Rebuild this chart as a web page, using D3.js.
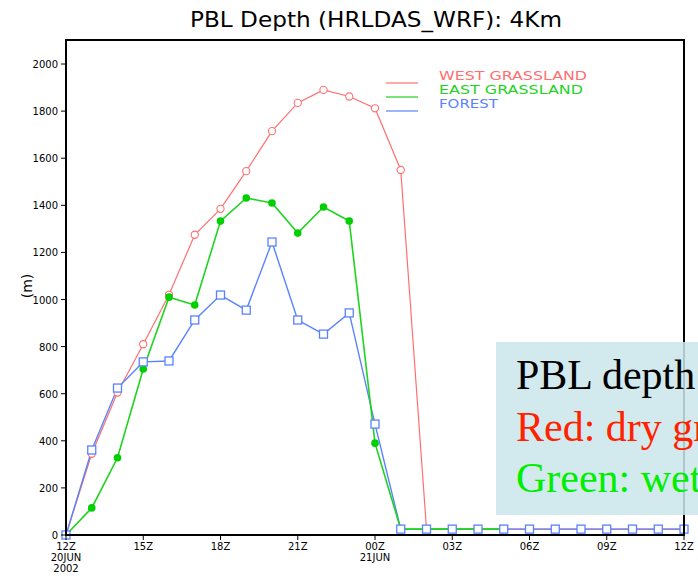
<!DOCTYPE html>
<html>
<head>
<meta charset="utf-8">
<script src="https://cdn.jsdelivr.net/npm/d3@7"></script>
<style>
  html, body { margin: 0; padding: 0; background: #fff; overflow: hidden; }
  svg { display: block; }
</style>
</head>
<body>
<div id="chart"></div>
<script>
// hours after 12Z 20JUN2002
const hours = [0, 1, 2, 3, 4, 5, 6, 7, 8, 9, 10, 11, 12, 13, 14, 15, 16, 17, 18, 19, 20, 21, 22, 23, 24];
const westGrass = [0, 345, 605, 810, 1020, 1275, 1385, 1545, 1715, 1835, 1890, 1862, 1812, 1550, 25, 25, 25, 25, 25, 25, 25, 25, 25, 25, 25];
const eastGrass = [0, 115, 328, 705, 1010, 977, 1333, 1431, 1410, 1282, 1393, 1333, 390, 25, 25, 25, 25, 25, null, null, null, null, null, null, null];
const forest = [0, 361, 624, 735, 739, 913, 1019, 955, 1244, 913, 853, 943, 471, 25, 25, 25, 25, 25, 25, 25, 25, 25, 25, 25, 25];
const yTicks = [0, 200, 400, 600, 800, 1000, 1200, 1400, 1600, 1800, 2000];
const xTicks = [0, 3, 6, 9, 12, 15, 18, 21, 24];
const xTickLabels = [['12Z', '20JUN', '2002'], ['15Z'], ['18Z'], ['21Z'], ['00Z', '21JUN'], ['03Z'], ['06Z'], ['09Z'], ['12Z']];
const legendNames = ['WEST GRASSLAND', 'EAST GRASSLAND', 'FOREST'];
const noteLines = ['PBL depth', 'Red: dry grassland', 'Green: wet grassland'];

const W = 698, H = 582;
const m = { left: 66, right: 684, top: 40, bottom: 535 };
const colors = { west: '#ff6f6f', east: '#1ed41e', forest: '#5a82ff' };
const font = 'DejaVu Sans, Liberation Sans, sans-serif';

const svg = d3.select('#chart').append('svg')
  .attr('width', W).attr('height', H);

const x = d3.scaleLinear().domain([0, 24]).range([m.left, m.right]);
const y = d3.scaleLinear().domain([0, 2102]).range([m.bottom, m.top]);

// Title
svg.append('text')
  .attr('x', 376).attr('y', 27)
  .attr('text-anchor', 'middle')
  .attr('font-family', font)
  .attr('font-size', 21)
  .attr('textLength', 372)
  .attr('lengthAdjust', 'spacingAndGlyphs')
  .attr('fill', '#000')
  .text('PBL Depth (HRLDAS_WRF): 4Km');

// Y label
svg.append('text')
  .attr('transform', 'translate(32,286) rotate(-90)')
  .attr('text-anchor', 'middle')
  .attr('font-family', font)
  .attr('font-size', 14)
  .attr('fill', '#000')
  .text('(m)');

// Series
const series = [
  { key: 'west', vals: westGrass, color: colors.west, width: 1.2 },
  { key: 'forest', vals: forest, color: colors.forest, width: 1.4 },
  { key: 'east', vals: eastGrass, color: colors.east, width: 1.6 }
];

const line = d3.line()
  .defined(d => d.v != null)
  .x(d => x(d.h))
  .y(d => y(d.v));

series.forEach(s => {
  const pts = hours.map((h, i) => ({ h, v: s.vals[i] }));
  svg.append('path')
    .datum(pts)
    .attr('d', line)
    .attr('fill', 'none')
    .attr('stroke', s.color)
    .attr('stroke-width', s.width);
});

// Markers: red open circles, green dots, blue open squares on top
const ptsOf = vals => hours.map((h, i) => ({ h, v: vals[i] })).filter(d => d.v != null);

svg.append('g').selectAll('circle')
  .data(ptsOf(westGrass))
  .join('circle')
  .attr('cx', d => x(d.h)).attr('cy', d => y(d.v))
  .attr('r', 3.6)
  .attr('fill', '#fff')
  .attr('stroke', colors.west)
  .attr('stroke-width', 1.1);

svg.append('g').selectAll('circle')
  .data(ptsOf(eastGrass))
  .join('circle')
  .attr('cx', d => x(d.h)).attr('cy', d => y(d.v))
  .attr('r', 3.8)
  .attr('fill', '#00d000');

svg.append('g').selectAll('rect')
  .data(ptsOf(forest))
  .join('rect')
  .attr('x', d => x(d.h) - 4).attr('y', d => y(d.v) - 4)
  .attr('width', 8).attr('height', 8)
  .attr('fill', '#fff')
  .attr('stroke', colors.forest)
  .attr('stroke-width', 1.3);

// Frame
svg.append('rect')
  .attr('x', m.left).attr('y', m.top)
  .attr('width', m.right - m.left).attr('height', m.bottom - m.top)
  .attr('fill', 'none')
  .attr('stroke', '#000')
  .attr('stroke-width', 2);

// Y axis ticks & labels
const yAxis = svg.append('g');
yTicks.forEach(t => {
  yAxis.append('line')
    .attr('x1', m.left - 5).attr('x2', m.left)
    .attr('y1', y(t)).attr('y2', y(t))
    .attr('stroke', '#000').attr('stroke-width', 1);
  yAxis.append('text')
    .attr('x', m.left - 8).attr('y', y(t) + 4)
    .attr('text-anchor', 'end')
    .attr('font-family', font)
    .attr('font-size', 10)
    .attr('fill', '#000')
    .text(t);
});

// X axis ticks & labels
const xAxis = svg.append('g');
xTicks.forEach((t, i) => {
  xAxis.append('line')
    .attr('x1', x(t)).attr('x2', x(t))
    .attr('y1', m.bottom).attr('y2', m.bottom + 5)
    .attr('stroke', '#000').attr('stroke-width', 1);
  xTickLabels[i].forEach((lab, j) => {
    xAxis.append('text')
      .attr('x', x(t)).attr('y', 550 + j * 10.8)
      .attr('text-anchor', 'middle')
      .attr('font-family', font)
      .attr('font-size', 10)
      .attr('fill', '#000')
      .text(lab);
  });
});

// Legend
const legendColors = [colors.west, colors.east, colors.forest];
const legendLen = [148, 144, 59];
legendNames.forEach((name, i) => {
  svg.append('line')
    .attr('x1', 386).attr('x2', 418)
    .attr('y1', 83 + i * 14).attr('y2', 83 + i * 14)
    .attr('stroke', legendColors[i]).attr('stroke-width', 1.2);
  svg.append('text')
    .attr('x', 439).attr('y', 79.5 + i * 14)
    .attr('font-family', font)
    .attr('font-size', 12.5)
    .attr('textLength', legendLen[i])
    .attr('lengthAdjust', 'spacingAndGlyphs')
    .attr('fill', legendColors[i])
    .text(name);
});

// Overlaid note box (runs off the right edge, as in the source slide)
svg.append('rect')
  .attr('x', 496).attr('y', 342)
  .attr('width', W - 496 + 10).attr('height', 173)
  .attr('fill', '#cbe6ea')
  .attr('opacity', 0.86);

const noteColors = ['#000', '#ff2200', '#00ee00'];
noteLines.forEach((t, i) => {
  svg.append('text')
    .attr('x', 516).attr('y', 389 + i * 51.5)
    .attr('font-family', 'Liberation Serif, Times New Roman, serif')
    .attr('font-size', 42)
    .attr('fill', noteColors[i])
    .text(t);
});
</script>
</body>
</html>
